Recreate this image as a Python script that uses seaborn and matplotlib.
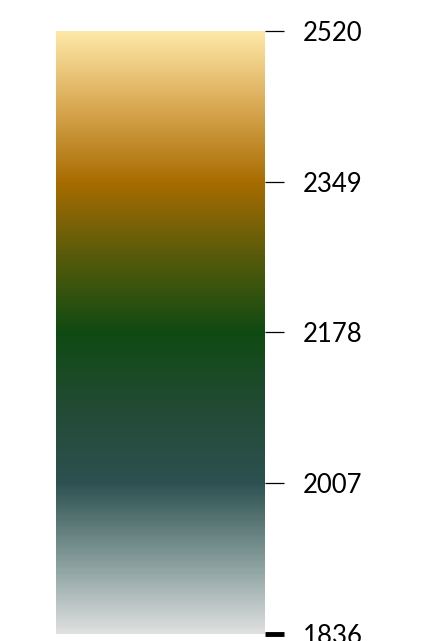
import numpy as np
import pandas as pd
import matplotlib
matplotlib.use("Agg")
import matplotlib.pyplot as plt
import seaborn as sns
from matplotlib.colors import LinearSegmentedColormap

vmin, vmax = 1836, 2520
tick_values = [1836, 2007, 2178, 2349, 2520]
tick_labels = ["1836", "2007", "2178", "2349", "2520"]
stop_positions = [0.0, 0.1, 0.25, 0.38, 0.5, 0.625, 0.75, 0.875, 1.0]
stop_colors = ["#e0e0e0", "#93a8a6", "#2c5050", "#214a33", "#0f4a12",
               "#565a0a", "#a86b00", "#d9a852", "#fde8a8"]

sns.set_theme(style="white")
plt.rcParams['font.family'] = ['Lato', 'DejaVu Sans']

cmap = LinearSegmentedColormap.from_list("custom", list(zip(stop_positions, stop_colors)), N=512)

fig = plt.figure(figsize=(4.27, 6.41), dpi=100)
hax = fig.add_axes([0, 0, 0.01, 0.01])
cax = fig.add_axes([56/427, 7/641, 209/427, 603/641])
df = pd.DataFrame([[vmin, vmax]])
sns.heatmap(df, ax=hax, cmap=cmap, vmin=vmin, vmax=vmax, cbar=True, cbar_ax=cax,
            cbar_kws={"ticks": tick_values})
hax.set_visible(False)
cb = hax.collections[0].colorbar
cb.outline.set_visible(False)
cb.set_ticks(tick_values)
cb.set_ticklabels(tick_labels)
cax.tick_params(axis='y', which='major', length=14, width=0.9, color='black',
                labelsize=18.5, pad=13, labelcolor='black', right=True, direction='out')
# bottom tick drawn thicker, as in the reference
cax.yaxis.get_major_ticks()[0].tick2line.set_markeredgewidth(3.5)
fig.savefig("out.png", dpi=100, facecolor='white')
